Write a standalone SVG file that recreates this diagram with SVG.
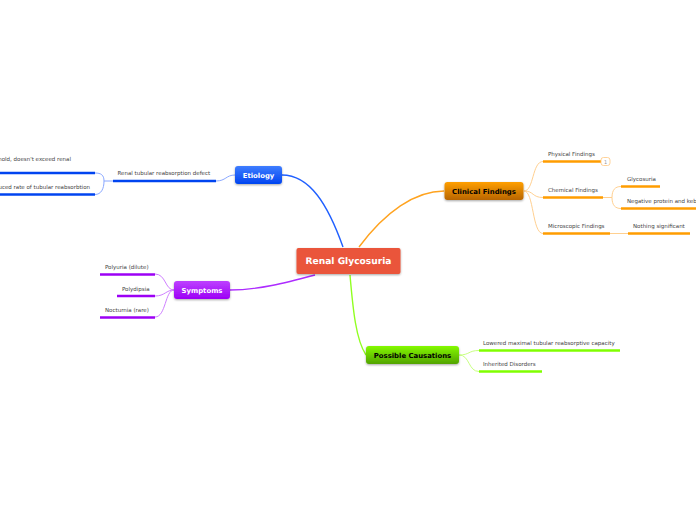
<svg xmlns="http://www.w3.org/2000/svg" width="696" height="520" viewBox="0 0 696 520">
<style>
text{font-family:"DejaVu Sans",Verdana,sans-serif;text-rendering:geometricPrecision}
.s{font-size:5.5px;fill:#444}
.m{font-size:6.9px;font-weight:bold;text-anchor:middle}
.c{fill:none}
.u{stroke-width:2.600;fill:none}
</style>
<defs>
<linearGradient id="gb" x1="0" y1="0" x2="0" y2="1"><stop offset="0" stop-color="#3f7dff"/><stop offset="1" stop-color="#0044f0"/></linearGradient>
<linearGradient id="gp" x1="0" y1="0" x2="0" y2="1"><stop offset="0" stop-color="#bd40ff"/><stop offset="1" stop-color="#9c00f5"/></linearGradient>
<linearGradient id="go" x1="0" y1="0" x2="0" y2="1"><stop offset="0" stop-color="#ff9f00"/><stop offset="1" stop-color="#b86500"/></linearGradient>
<linearGradient id="gg" x1="0" y1="0" x2="0" y2="1"><stop offset="0" stop-color="#84fa00"/><stop offset="1" stop-color="#52a300"/></linearGradient>
<filter id="sh" x="-10%" y="-20%" width="120%" height="150%"><feDropShadow dx="0" dy="1" stdDeviation="0.8" flood-color="#000" flood-opacity="0.35"/></filter>
</defs>
<g id="connectors">
<path class="c" d="M343 247C328 205 310 175 282 175" stroke="#2060ff" stroke-width="1.400"/>
<path class="c" d="M359 247C385 212 415 191 444 191" stroke="#ffa31f" stroke-width="1.400"/>
<path class="c" d="M315 275C285 283 258 290 230 290" stroke="#ad2cff" stroke-width="1.400"/>
<path class="c" d="M350 275C353 310 356 340 366 355" stroke="#90ff20" stroke-width="1.400"/>
<g stroke-width="1" fill="none">
<path d="M235 175C226 175 226 181 216 181" stroke="#8aa8ff"/>
<path d="M104 181H113M95 173C101 173 104 175 104 181C104 189 101 194.500 95 194.500" stroke="#8aa8ff"/>
<path d="M174 290C165 290 166 274 155 274M174 290C166 290 165 296 155 296M174 290C165 290 166 317 155 317" stroke="#cf80ff"/>
<path d="M524 191C534 191 532 161.500 543 161.500M524 191C534 191 532 197.500 543 197.500M524 191C534 191 532 233.500 543 233.500" stroke="#ffd090"/>
<path d="M603 197.500H612M621 186.500C615 186.500 612 190 612 197.500C612 205 615 208.500 621 208.500" stroke="#ffd090"/>
<path d="M610 233.500H628" stroke="#ffd090"/>
<path d="M459 355C470 355 468 350.500 479 350.500M459 355C470 355 468 371.500 479 371.500" stroke="#c8ff80"/>
</g>
</g>
<g id="root"><rect x="296.500" y="248" width="104" height="26" rx="2" fill="#ea553a" filter="url(#sh)"/><text x="348.500" y="264" text-anchor="middle" font-size="9.100" font-weight="bold" fill="#fff">Renal Glycosuria</text></g>
<g id="etiology"><rect x="235" y="166" width="47" height="18" rx="3" fill="url(#gb)" filter="url(#sh)"/><text class="m" x="258.500" y="177.500" fill="#fff">Etiology</text></g>
<g id="symptoms"><rect x="174" y="281" width="56" height="18" rx="3" fill="url(#gp)" filter="url(#sh)"/><text class="m" x="202" y="292.500" fill="#fff">Symptoms</text></g>
<g id="clinical"><rect x="444.500" y="182" width="79" height="18" rx="3" fill="url(#go)" filter="url(#sh)"/><text class="m" x="484" y="193.500" fill="#000">Clinical Findings</text></g>
<g id="causations"><rect x="366" y="346" width="93" height="18" rx="3" fill="url(#gg)" filter="url(#sh)"/><text class="m" x="412.500" y="357.500" fill="#000">Possible Causations</text></g>
<g id="defect"><text class="s" x="117.500" y="175">Renal tubular reabsorption defect</text><path class="u" d="M113 181H216" stroke="#0044f0"/></g>
<g id="threshold"><text class="s" x="71" y="161" text-anchor="end">hold, doesn't exceed renal</text><path class="u" d="M0 173H95" stroke="#0044f0"/></g>
<g id="reduced"><text class="s" x="90" y="189" text-anchor="end">uced rate of tubular reabsorbtion</text><path class="u" d="M0 194.500H95" stroke="#0044f0"/></g>
<g id="polyuria"><text class="s" x="105" y="269">Polyuria (dilute)</text><path class="u" d="M100 274.500H155" stroke="#9c00f5"/></g>
<g id="polydipsia"><text class="s" x="122" y="291">Polydipsia</text><path class="u" d="M117 296H155" stroke="#9c00f5"/></g>
<g id="nocturnia"><text class="s" x="105" y="312">Nocturnia (rare)</text><path class="u" d="M100 317.500H155" stroke="#9c00f5"/></g>
<g id="physical"><text class="s" x="548" y="156">Physical Findings</text><path class="u" d="M543 161.500H601" stroke="#ff9d00"/><rect x="601" y="157.500" width="9" height="8" rx="2.500" fill="#fff" stroke="#ffc880" stroke-width="0.8"/><text x="605.500" y="163.500" text-anchor="middle" font-size="5px" fill="#999">1</text></g>
<g id="chemical"><text class="s" x="548" y="192">Chemical Findings</text><path class="u" d="M543 197.500H603" stroke="#ff9d00"/></g>
<g id="glycosuria"><text class="s" x="627" y="181">Glycosuria</text><path class="u" d="M621 186.500H660" stroke="#ff9d00"/></g>
<g id="negative"><text class="s" x="627" y="203">Negative protein and keb</text><path class="u" d="M621 208.500H696" stroke="#ff9d00"/></g>
<g id="microscopic"><text class="s" x="548" y="228">Microscopic Findings</text><path class="u" d="M543 233.500H610" stroke="#ff9d00"/></g>
<g id="nothing"><text class="s" x="633" y="228">Nothing significant</text><path class="u" d="M628 233.500H690" stroke="#ff9d00"/></g>
<g id="lowered"><text class="s" x="483" y="345">Lowered maximal tubular reabsorptive capacity</text><path class="u" d="M479 350.500H620" stroke="#80ff00"/></g>
<g id="inherited"><text class="s" x="483" y="366">Inherited Disorders</text><path class="u" d="M479 371.500H542" stroke="#80ff00"/></g>
</svg>
